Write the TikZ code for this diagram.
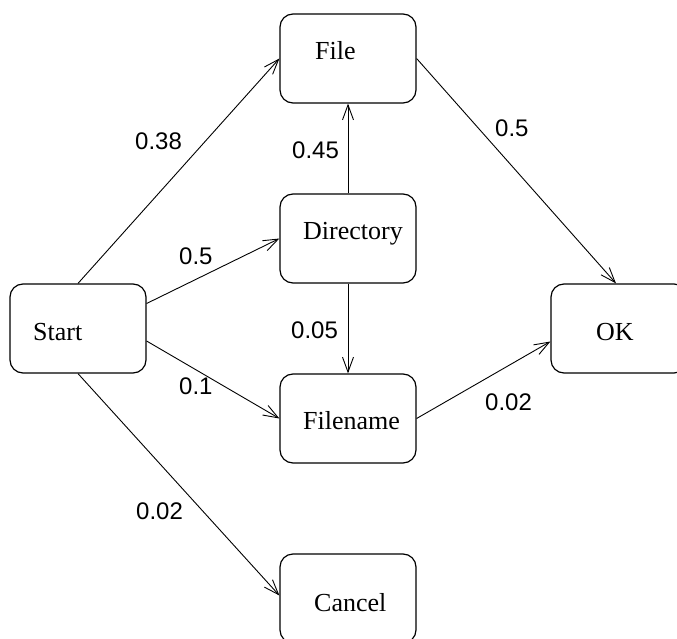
\documentclass[tikz,border=0pt]{standalone}
\usepackage{fontspec}
\setmainfont{Liberation Serif}
\newfontfamily\lblfont{Liberation Sans}
\usetikzlibrary{arrows.meta}
\begin{document}
\begin{tikzpicture}[x=1pt, y=-1pt,
  state/.style={draw, line width=1.2pt, rounded corners=13pt,
    minimum width=136pt, minimum height=89pt, inner sep=0pt},
  statetext/.style={anchor=base west, inner sep=0pt,
    font=\fontsize{26}{30}\selectfont},
  prob/.style={anchor=base west, inner sep=0pt,
    font=\lblfont\fontsize{24}{28}\selectfont},
  trans/.style={line width=0.9pt,
    -{Straight Barb[length=15pt, width=11pt, line width=0.9pt]}}]
  \useasboundingbox (0,0) rectangle (677,639);

  % state boxes
  \node[state] (file)      at (348, 58.5)  {};
  \node[state] (directory) at (348, 238.5) {};
  \node[state] (start)     at (78, 328.5)  {};
  \node[state] (ok)        at (619, 328.5) {};
  \node[state] (filename)  at (348, 418.5) {};
  \node[state] (cancel)    at (348, 598.5) {};

  % state names
  \node[statetext] (fileT)      at (315, 60)  {File};
  \node[statetext] (directoryT) at (303, 240) {Directory};
  \node[statetext] (startT)     at (33, 340)  {Start};
  \node[statetext] (okT)        at (596, 340) {OK};
  \node[statetext] (filenameT)  at (303, 429) {Filename};
  \node[statetext] (cancelT)    at (314, 611) {Cancel};

  % transitions
  \draw[trans] (start.north) -- (file.west);
  \draw[trans] ([yshift=25pt]start.east) -- (directory.west);
  \draw[trans] ([yshift=-12.5pt]start.east) -- (filename.west);
  \draw[trans] (start.south) -- ([yshift=3pt]cancel.west);
  \draw[trans] (file.east) -- ([xshift=-3pt]ok.north);
  \draw[trans] (directory.north) -- (file.south);
  \draw[trans] (directory.south) -- (filename.north);
  \draw[trans] (filename.east) -- ([yshift=-13pt]ok.west);

  % transition probabilities
  \node[prob] (p1) at (135, 150) {0.38};
  \node[prob] (p2) at (179, 264) {0.5};
  \node[prob] (p3) at (179, 394) {0.1};
  \node[prob] (p4) at (136, 519) {0.02};
  \node[prob] (p5) at (292, 159) {0.45};
  \node[prob] (p6) at (291, 338) {0.05};
  \node[prob] (p7) at (495, 137) {0.5};
  \node[prob] (p8) at (485, 410) {0.02};
\end{tikzpicture}
\end{document}
